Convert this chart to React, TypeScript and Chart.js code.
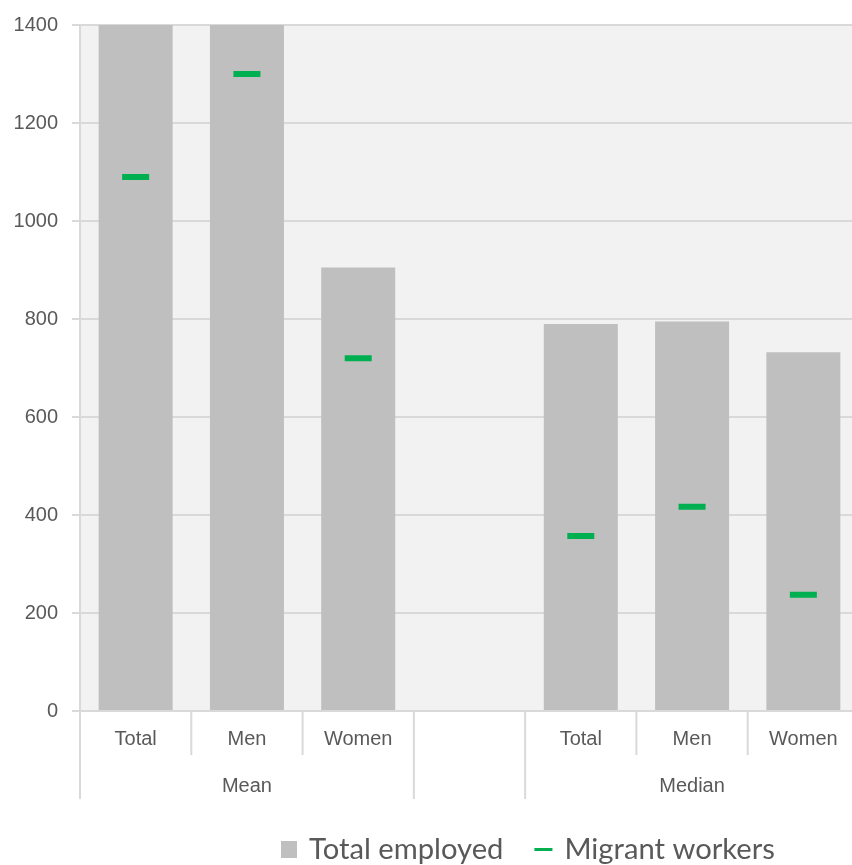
import React, { useEffect, useRef } from "react";
import { Chart, registerables } from "chart.js";

Chart.register(...registerables);

const categories = ["Total", "Men", "Women", "", "Total", "Men", "Women"];
const groupLabels = ["Mean", "", "Median"];
const groupSizes = [3, 1, 3];
const totalEmployed = [1480, 1620, 905, null, 790, 795, 732];
const migrantWorkers = [1090, 1300, 720, null, 357, 417, 237];
const seriesNames = ["Total employed", "Migrant workers"];
const yMin = 0;
const yMax = 1400;
const yStep = 200;

const AXIS_FONT = '"Liberation Sans", Arial, sans-serif';
const LEGEND_FONT = 'Lato, "Noto Sans", sans-serif';
const TEXT = "#595959";
const GRID = "#d9d9d9";
const BAR = "#bfbfbf";
const GREEN = "#00b050";

const bgPlugin = {
  id: "plotBg",
  beforeDraw(chart: any) {
    const { ctx, chartArea } = chart;
    ctx.save();
    ctx.fillStyle = "#f2f2f2";
    ctx.fillRect(chartArea.left, chartArea.top, chartArea.right - chartArea.left, chartArea.bottom - chartArea.top);
    ctx.restore();
  },
};

const axisPlugin = {
  id: "groupAxis",
  afterDraw(chart: any) {
    const { ctx, chartArea } = chart;
    const xs = chart.scales.x;
    const n = categories.length;
    const step = (chartArea.right - chartArea.left) / n;
    const bottom = chartArea.bottom;
    const groupBounds = new Set<number>();
    let acc = 0;
    groupBounds.add(0);
    groupSizes.forEach((s) => {
      acc += s;
      groupBounds.add(acc);
    });
    ctx.save();
    ctx.strokeStyle = GRID;
    ctx.lineWidth = 2;
    for (let i = 0; i <= n; i++) {
      const x = i < n ? xs.getPixelForValue(i) - step / 2 : xs.getPixelForValue(n - 1) + step / 2;
      const len = groupBounds.has(i) ? 88 : 44;
      ctx.beginPath();
      ctx.moveTo(x, bottom);
      ctx.lineTo(x, bottom + len);
      ctx.stroke();
    }
    ctx.fillStyle = TEXT;
    ctx.font = `20px ${AXIS_FONT}`;
    ctx.textAlign = "center";
    ctx.textBaseline = "middle";
    let start = 0;
    groupSizes.forEach((s, gi) => {
      const x0 = xs.getPixelForValue(start);
      const x1 = xs.getPixelForValue(start + s - 1);
      if (groupLabels[gi]) ctx.fillText(groupLabels[gi], (x0 + x1) / 2, bottom + 75);
      start += s;
    });
    // legend
    ctx.font = `29.2px ${LEGEND_FONT}`;
    ctx.textAlign = "left";
    ctx.textBaseline = "alphabetic";
    let x = 281;
    const base = 859;
    ctx.fillStyle = BAR;
    ctx.fillRect(x, 841, 16, 17);
    x += 28;
    ctx.fillStyle = TEXT;
    ctx.fillText(seriesNames[0], x, base);
    x += ctx.measureText(seriesNames[0]).width + 31;
    ctx.strokeStyle = GREEN;
    ctx.lineWidth = 3;
    ctx.beginPath();
    ctx.moveTo(x, 849.5);
    ctx.lineTo(x + 18, 849.5);
    ctx.stroke();
    x += 30;
    ctx.fillText(seriesNames[1], x, base);
    ctx.restore();
  },
};

export default function App() {
  const ref = useRef<HTMLCanvasElement>(null);
  useEffect(() => {
    document.body.style.margin = "0";
    const chart = new Chart(ref.current as HTMLCanvasElement, {
      type: "bar",
      data: {
        labels: categories,
        datasets: [
          {
            type: "line",
            label: seriesNames[1],
            data: migrantWorkers as any,
            showLine: false,
            pointStyle: "line",
            pointRadius: 13.5,
            pointHoverRadius: 13.5,
            pointBorderWidth: 6,
            pointBorderColor: GREEN,
            pointBackgroundColor: GREEN,
            borderColor: GREEN,
            order: 0,
          } as any,
          {
            type: "bar",
            label: seriesNames[0],
            data: totalEmployed as any,
            backgroundColor: BAR,
            categoryPercentage: 1,
            barPercentage: 0.665,
            order: 1,
          },
        ],
      },
      options: {
        animation: false,
        responsive: false,
        maintainAspectRatio: false,
        layout: { autoPadding: false, padding: { top: 25, left: 0, right: 0, bottom: 0 } },
        plugins: {
          legend: { display: false },
          tooltip: { enabled: false },
        },
        scales: {
          x: {
            offset: true,
            grid: { display: false, drawTicks: false, offset: true },
            border: { display: true, color: GRID, width: 2 },
            ticks: {
              color: TEXT,
              font: { family: AXIS_FONT, size: 20 },
              padding: 16,
              maxRotation: 0,
              autoSkip: false,
            },
            afterFit(scale: any) {
              scale.height = 154;
              scale.paddingLeft = 0;
              scale.paddingRight = 0;
            },
          },
          y: {
            min: yMin,
            max: yMax,
            grid: { color: GRID, lineWidth: 2, tickLength: 8, drawTicks: true },
            border: { display: true, color: GRID, width: 2 },
            ticks: {
              stepSize: yStep,
              color: TEXT,
              font: { family: AXIS_FONT, size: 20 },
              padding: 14,
              callback: (v: any) => String(v),
            },
            afterFit(scale: any) {
              scale.width = 80;
              scale.paddingTop = 0;
              scale.paddingBottom = 0;
            },
          },
        },
      },
      plugins: [bgPlugin, axisPlugin],
    });
    return () => chart.destroy();
  }, []);
  return (
    <div style={{ width: 852, height: 865, overflow: "hidden" }}>
      <canvas ref={ref} width={859} height={865} style={{ display: "block" }} />
    </div>
  );
}
